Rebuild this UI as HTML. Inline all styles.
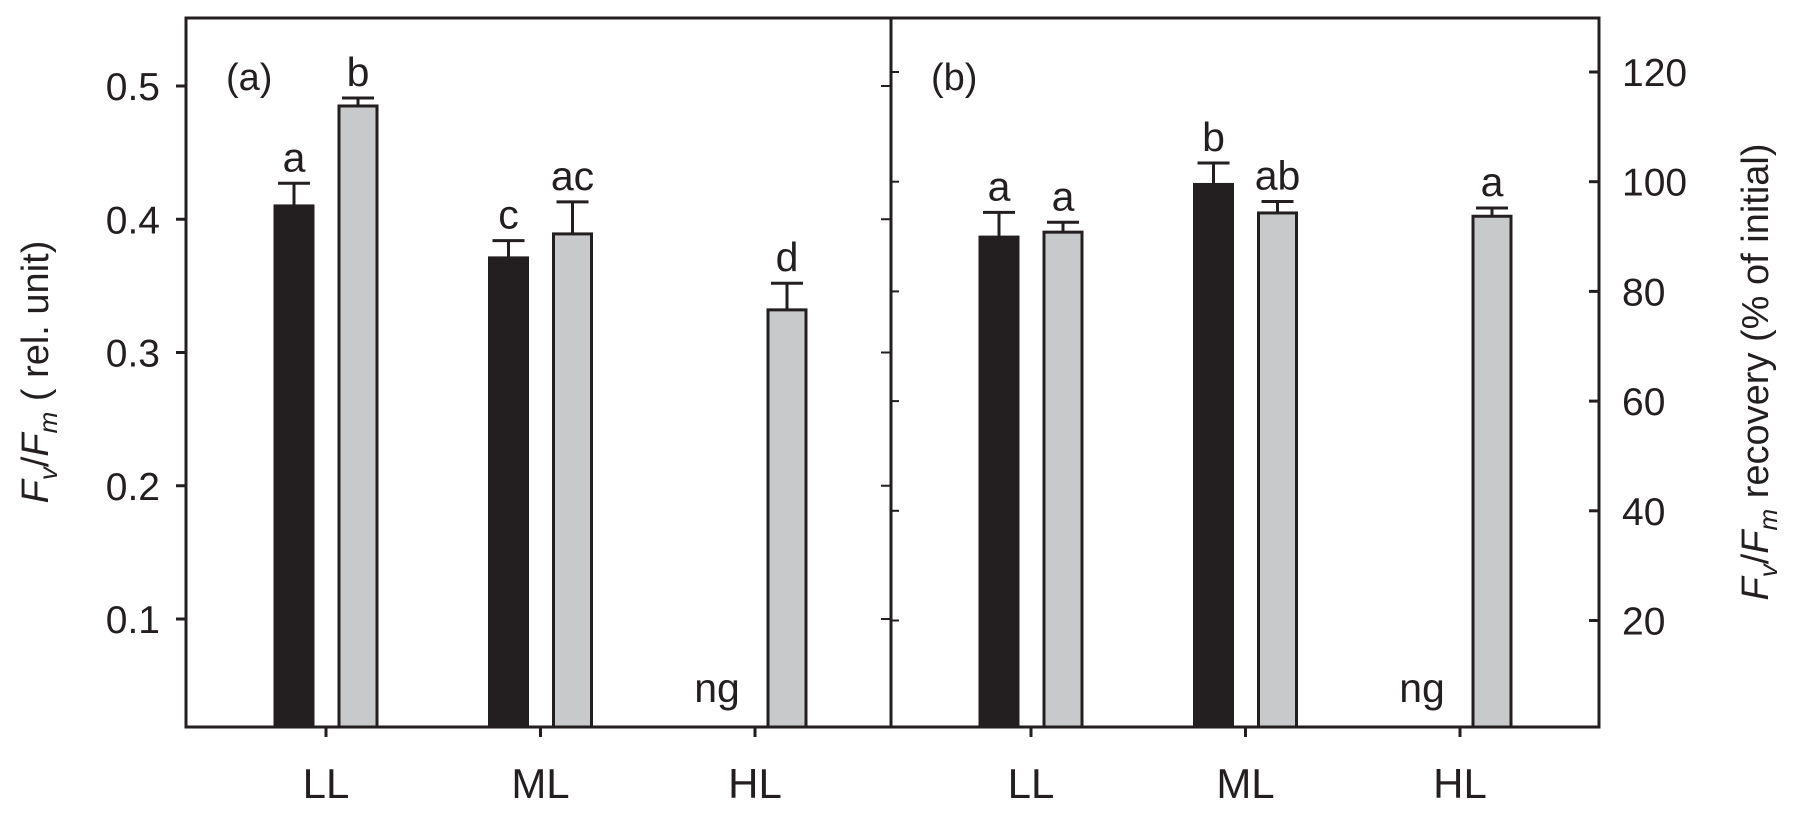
<!DOCTYPE html>
<html><head><meta charset="utf-8"><style>
html,body{margin:0;padding:0;background:#fff}
svg{display:block;font-family:"Liberation Sans",Arial,sans-serif;fill:#231f20}
</style></head><body>
<svg id="chart" width="1795" height="816" viewBox="0 0 1795 816">
<g id="g"></g>
<text transform="translate(48,372) rotate(-90)" text-anchor="middle" font-size="38"><tspan font-style="italic">F</tspan><tspan font-style="italic" font-size="26" dy="9">v</tspan><tspan dy="-9">/</tspan><tspan font-style="italic">F</tspan><tspan font-style="italic" font-size="26" dy="9">m</tspan><tspan dy="-9"> ( rel. unit)</tspan></text>
<text transform="translate(1768,372) rotate(-90)" text-anchor="middle" font-size="38"><tspan font-style="italic">F</tspan><tspan font-style="italic" font-size="26" dy="9">v</tspan><tspan dy="-9">/</tspan><tspan font-style="italic">F</tspan><tspan font-style="italic" font-size="26" dy="9">m</tspan><tspan dy="-9"> recovery (% of initial)</tspan></text>
</svg>
<script>
const categories = ["LL","ML","HL"];
const aDark = [0.41, 0.371, null];
const aDarkErr = [0.427, 0.384, null];
const aGray = [0.485, 0.389, 0.332];
const aGrayErr = [0.491, 0.413, 0.352];
const aDarkLetters = ["a","c","ng"];
const aGrayLetters = ["b","ac","d"];
const bDark = [89.9, 99.5, null];
const bDarkErr = [94.4, 103.4, null];
const bGray = [90.8, 94.3, 93.7];
const bGrayErr = [92.6, 96.4, 95.2];
const bDarkLetters = ["a","b","ng"];
const bGrayLetters = ["a","ab","a"];
const aTicks = [0.1,0.2,0.3,0.4,0.5];
const bTicks = [20,40,60,80,100,120];

const NS="http://www.w3.org/2000/svg";
const g=document.getElementById('g');
function mk(t,a,txt){const e=document.createElementNS(NS,t);for(const k in a)e.setAttribute(k,a[k]);if(txt!==undefined)e.textContent=txt;g.appendChild(e);return e;}
const TOP=18,BOT=727;
const yA=v=>86+(0.5-v)*1332.5;
const yB=v=>181.7+(100-v)*5.485;
const panels=[
 {L:186,R:891,y:yA,dark:aDark,darkErr:aDarkErr,gray:aGray,grayErr:aGrayErr,dl:aDarkLetters,gl:aGrayLetters,lab:"(a)",name:"panel-a"},
 {L:891,R:1599,y:yB,dark:bDark,darkErr:bDarkErr,gray:bGray,grayErr:bGrayErr,dl:bDarkLetters,gl:bGrayLetters,lab:"(b)",name:"panel-b"}];
panels.forEach((p,pi)=>{
 const xc=i=>p.L+140+i*214.5;
 const fr=mk('rect',{x:p.L,y:TOP,width:p.R-p.L,height:BOT-TOP,fill:'none',stroke:'#231f20','stroke-width':3});
 
 
 const pl=mk('text',{x:p.L+40,y:90,'font-size':38},p.lab);
 
 
 categories.forEach((c,i)=>{
  const x=xc(i);
  const t=mk('line',{x1:x,x2:x,y1:BOT,y2:BOT+10,stroke:'#231f20','stroke-width':3});
  
  
  const lt=mk('text',{x:x,y:798,'font-size':42,'text-anchor':'middle'},c);
  
  
  [[p.dark,p.darkErr,p.dl,-32,'#231f20','dark'],[p.gray,p.grayErr,p.gl,32,'#c8c9ca','gray']].forEach(s=>{
   const v=s[0][i],bx=x+s[3];
   if(v===null){
    const ng=mk('text',{x:bx-6,y:702,'font-size':41,'text-anchor':'middle'},s[2][i]);
    
    
    return;
   }
   const yt=p.y(v),ye=p.y(s[1][i]);
   const b=mk('rect',{x:bx-19,y:yt,width:38,height:BOT-yt,fill:s[4],stroke:'#231f20','stroke-width':3});
   
   
   const e1=mk('line',{x1:bx,x2:bx,y1:yt,y2:ye,stroke:'#231f20','stroke-width':3});
   
   
   const e2=mk('line',{x1:bx-16,x2:bx+16,y1:ye,y2:ye,stroke:'#231f20','stroke-width':3});
   
   
   const l=mk('text',{x:bx,y:ye-12,'font-size':41,'text-anchor':'middle'},s[2][i]);
   
   
  });
 });
});
aTicks.forEach(v=>{
 const y=yA(v);
 const t1=mk('line',{x1:176,x2:186,y1:y,y2:y,stroke:'#231f20','stroke-width':3});
 
 
 const t2=mk('line',{x1:881,x2:891,y1:y,y2:y,stroke:'#231f20','stroke-width':2});
 
 
 const l=mk('text',{x:160,y:y+14,'font-size':39,'text-anchor':'end'},v.toFixed(1));
 
 
});
bTicks.forEach(v=>{
 const y=yB(v);
 const t1=mk('line',{x1:1589,x2:1599,y1:y,y2:y,stroke:'#231f20','stroke-width':3});
 
 
 const t2=mk('line',{x1:891,x2:899,y1:y,y2:y,stroke:'#231f20','stroke-width':2});
 
 
 const l=mk('text',{x:1622,y:y+14,'font-size':39},String(v));
 
 
});
</script>
</body></html>
